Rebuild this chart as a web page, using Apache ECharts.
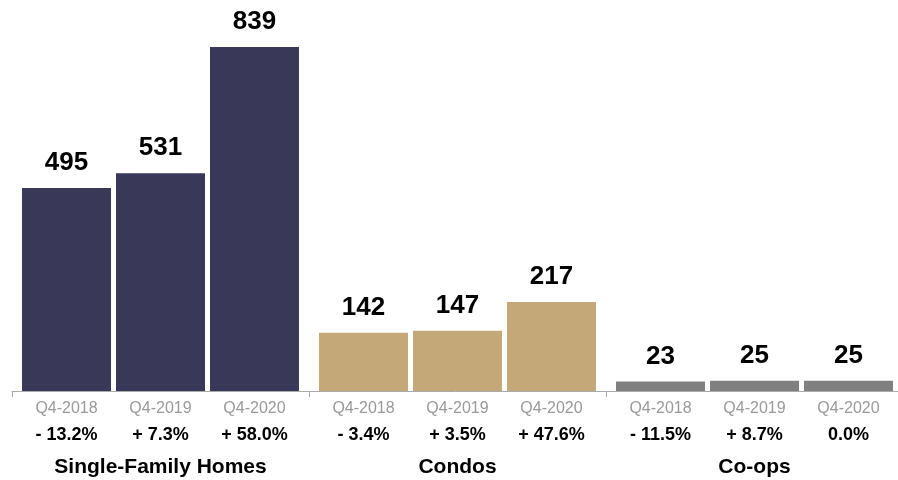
<!DOCTYPE html>
<html>
<head>
<meta charset="utf-8">
<style>
  html, body { margin: 0; padding: 0; background: #fff; }
  #chart { width: 898px; height: 480px; }
</style>
<script src="https://cdn.jsdelivr.net/npm/echarts@6/dist/echarts.min.js"></script>
</head>
<body>
<div id="chart"></div>
<script>
const groups = ['Single-Family Homes', 'Condos', 'Co-ops']
const years = ['Q4-2018', 'Q4-2019', 'Q4-2020']

const sales2018 = [495, 142, 23]
const sales2019 = [531, 147, 25]
const sales2020 = [839, 217, 25]
const salesByYear = [sales2018, sales2019, sales2020]

const change2018 = ['- 13.2%', '- 3.4%', '- 11.5%']
const change2019 = ['+ 7.3%', '+ 3.5%', '+ 8.7%']
const change2020 = ['+ 58.0%', '+ 47.6%', '0.0%']
const changeByYear = [change2018, change2019, change2020]

const groupColors = ['#3a3859', '#c4a878', '#808080']

const font = '"Liberation Sans", Arial, Helvetica, sans-serif'
const barOpts = { barWidth: 89, barGap: '5.6%', barCategoryGap: '6.7%' }

const chart = echarts.init(document.getElementById('chart'))

// visible bars with value on top
const barSeries = years.map((y, i) => ({
  name: y,
  type: 'bar',
  xAxisIndex: 0,
  ...barOpts,
  data: salesByYear[i].map((v, g) => ({ value: v, itemStyle: { color: groupColors[g] } })),
  label: {
    show: true,
    position: 'top',
    distance: 12,
    fontFamily: font,
    fontSize: 26,
    fontWeight: 'bold',
    color: '#000'
  },
  silent: true
}))

// transparent twins on a hidden axis, only for the labels under each bar
const labelSeries = years.map((y, i) => ({
  name: y + ' label',
  type: 'bar',
  xAxisIndex: 1,
  ...barOpts,
  data: salesByYear[i],
  itemStyle: { color: 'rgba(0,0,0,0)' },
  label: {
    show: true,
    position: 'bottom',
    distance: 5,
    fontFamily: font,
    formatter: p => '{q|' + y + '}\n{p|' + changeByYear[i][p.dataIndex] + '}',
    rich: {
      q: { fontFamily: font, fontSize: 16, color: '#999', lineHeight: 26 },
      p: { fontFamily: font, fontSize: 18, fontWeight: 'bold', color: '#000', lineHeight: 26 }
    }
  },
  silent: true
}))

chart.setOption({
  animation: false,
  grid: { left: 12, right: -5, top: 47, bottom: 89, containLabel: false, outerBoundsMode: 'none' },
  xAxis: [
    {
      type: 'category',
      data: groups,
      axisLine: { lineStyle: { color: '#aaa', width: 1 } },
      axisTick: { show: true, length: 6, lineStyle: { color: '#aaa' } },
      axisLabel: {
        margin: 66,
        fontFamily: font,
        fontSize: 21,
        fontWeight: 'bold',
        color: '#000'
      }
    },
    {
      type: 'category',
      data: groups,
      show: false
    }
  ],
  yAxis: {
    type: 'value',
    min: 0,
    max: 839,
    show: false,
    splitLine: { show: false }
  },
  series: [...barSeries, ...labelSeries]
})
</script>
</body>
</html>
